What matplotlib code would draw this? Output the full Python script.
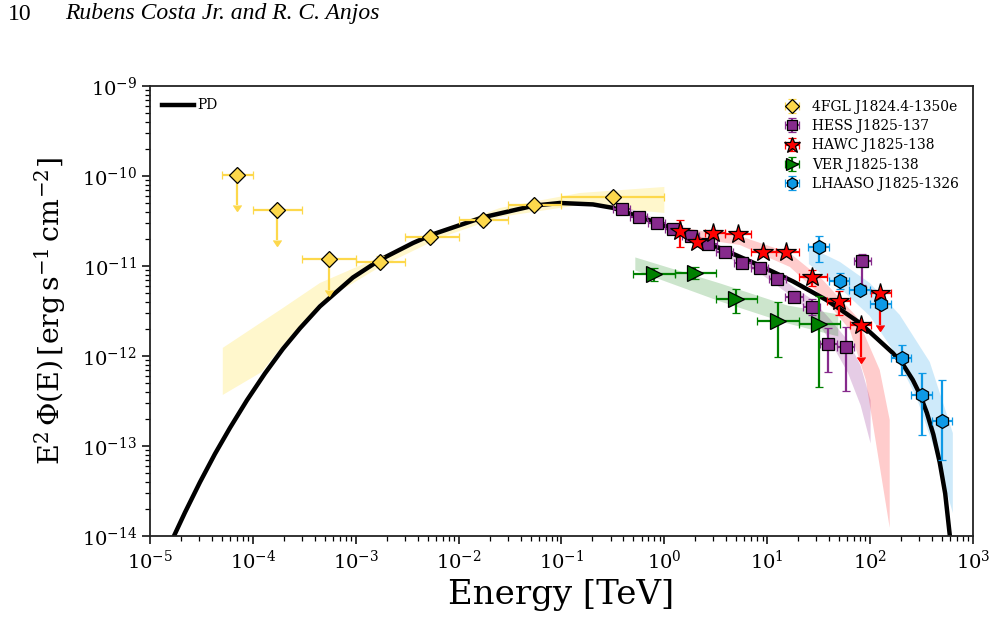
import matplotlib
matplotlib.use('Agg')
import matplotlib.pyplot as plt
import matplotlib.ticker as mticker
import numpy as np

plt.rcParams['font.family'] = 'DejaVu Serif'
plt.rcParams['mathtext.fontset'] = 'dejavuserif'

# PD model curve
pd_E = [1.41e-5, 1.71e-5, 2.19e-5, 3.06e-5, 4.28e-5, 5.99e-5, 8.77e-5, 1.31e-4,
        1.96e-4, 2.87e-4, 4.49e-4, 9.39e-4, 1.72e-3, 3.60e-3, 5.62e-3, 1.72e-2,
        5.4e-2, 9.64e-2, 0.202, 0.316, 0.904, 1.89, 4.05, 8.47, 17.7, 37.9, 79.4,
        166, 209, 260, 302, 356, 412, 475, 537, 596, 631]
pd_F = [6.2e-15, 1.0e-14, 1.83e-14, 3.96e-14, 8.17e-14, 1.59e-13, 3.23e-13, 6.40e-13,
        1.20e-12, 2.03e-12, 3.56e-12, 7.45e-12, 1.17e-11, 1.80e-11, 2.25e-11, 3.47e-11,
        4.68e-11, 5.01e-11, 4.83e-11, 4.42e-11, 2.94e-11, 2.10e-11, 1.46e-11, 1.01e-11,
        6.76e-12, 4.17e-12, 2.33e-12, 1.08e-12, 8.02e-13, 5.41e-13, 3.83e-13, 2.34e-13,
        1.34e-13, 6.56e-14, 2.95e-14, 1.0e-14, 5.0e-15]

# 4FGL J1824.4-1350e
fermi_E = np.array([7.0e-5, 1.73e-4, 5.5e-4, 1.73e-3, 5.3e-3, 1.73e-2, 5.4e-2, 0.315])
fermi_Elo = np.array([5e-5, 1e-4, 3e-4, 1e-3, 3e-3, 1e-2, 3e-2, 0.1])
fermi_Ehi = np.array([1e-4, 3e-4, 1e-3, 3e-3, 1e-2, 3e-2, 0.1, 1.0])
fermi_F = np.array([1.03e-10, 4.19e-11, 1.19e-11, 1.12e-11, 2.08e-11, 3.24e-11, 4.76e-11, 5.8e-11])
fermi_rel = np.array([0.54, 0.54, 0.54, 0.14, 0.12, 0.12, 0.10, 0.10])
fermi_ul = np.array([True, True, True, False, False, False, False, False])
fermi_band_upE = [5.1e-5, 1.96e-4, 4.49e-4, 1.72e-3, 6.58e-3, 2.52e-2, 0.151, 1.0]
fermi_band_upF = [1.23e-12, 3.41e-12, 6.47e-12, 1.26e-11, 2.51e-11, 4.41e-11, 6.47e-11, 7.55e-11]
fermi_band_loE = [5.1e-5, 1.22e-4, 1.96e-4, 4.49e-4, 1.72e-3, 6.58e-3, 2.52e-2, 0.151, 1.0]
fermi_band_loF = [3.69e-13, 6.64e-13, 1.32e-12, 3.88e-12, 9.75e-12, 2.05e-11, 3.5e-11, 4.76e-11, 3.88e-11]

# HESS J1825-137
hess_E = np.array([0.384, 0.565, 0.839, 1.22, 1.81, 2.67, 3.87, 5.70, 8.47, 12.5,
                   18.2, 27.0, 39.1, 57.7, 84.3])
hess_F = np.array([4.27e-11, 3.53e-11, 3.03e-11, 2.56e-11, 2.15e-11, 1.74e-11,
                   1.42e-11, 1.09e-11, 9.42e-12, 7.11e-12, 4.49e-12, 3.53e-12,
                   1.36e-12, 1.25e-12, 1.14e-11])
hess_rel_lo = np.array([0.05] * 10 + [0.08, 0.19, 0.51, 0.67, 0.46])
hess_rel_hi = np.array([0.05] * 10 + [0.08, 0.23, 0.51, 0.67, 0.20])
hess_band_E = [0.384, 1.81, 8.47, 18.2, 27.0, 39.9, 60.0, 80.0, 100]
hess_band_up = [4.76e-11, 2.39e-11, 1.08e-11, 5.84e-12, 4.30e-12, 2.64e-12, 1.51e-12, 7.94e-13, 3.24e-13]
hess_band_lo = [3.88e-11, 1.95e-11, 8.36e-12, 4.41e-12, 3.01e-12, 1.51e-12, 6.64e-13, 2.86e-13, 1.08e-13]

# HAWC J1825-138
hawc_E = np.array([1.42, 2.06, 2.98, 5.21, 9.12, 15.1, 27.3, 49.7, 80.7, 126])
hawc_Elo = np.array([1.42, 2.06, 2.48, 3.87, 6.89, 12.3, 20.3, 37.7, 63.5, 102])
hawc_Ehi = np.array([1.42, 2.06, 3.87, 6.89, 12.3, 20.3, 37.7, 63.5, 102, 159])
hawc_F = np.array([2.45e-11, 1.86e-11, 2.34e-11, 2.27e-11, 1.44e-11, 1.44e-11,
                   7.49e-12, 4.06e-12, 2.19e-12, 4.97e-12])
hawc_rel = np.array([0.33, 0.10, 0.08, 0.08, 0.08, 0.08, 0.20, 0.30, 0.55, 0.55])
hawc_ul = np.array([False] * 8 + [True, True])
hawc_band_upE = [1.32, 2.53, 5.42, 16.6, 34.7, 74.3, 124, 155]
hawc_band_upF = [2.78e-11, 2.39e-11, 2.15e-11, 1.39e-11, 6.99e-12, 2.71e-12, 6.99e-13, 1.95e-13]
hawc_band_loE = [1.32, 2.53, 5.42, 16.6, 34.7, 63.5, 90.8, 155]
hawc_band_loF = [2.27e-11, 1.95e-11, 1.71e-11, 9.75e-12, 4.53e-12, 1.95e-12, 5.41e-13, 1.23e-14]

# VER J1825-138
ver_E = np.array([0.796, 1.98, 4.95, 12.8, 31.7])
ver_Elo = np.array([0.50, 1.26, 3.2, 8.0, 20.3])
ver_Ehi = np.array([1.26, 3.2, 8.0, 20.3, 50.7])
ver_F = np.array([8.09e-12, 8.43e-12, 4.27e-12, 2.45e-12, 2.27e-12])
ver_rel_lo = np.array([0.16, 0.16, 0.30, 0.60, 0.80])
ver_rel_hi = np.array([0.16, 0.16, 0.30, 0.64, 1.03])
ver_band_E = [0.516, 3.46, 15.5, 48.5]
ver_band_up = [1.26e-11, 6.47e-12, 3.69e-12, 2.93e-12]
ver_band_lo = [9.03e-12, 4.08e-12, 2.33e-12, 1.67e-12]

# LHAASO J1825-1326
lhaaso_E = np.array([31.9, 50.8, 79.4, 127, 202, 320, 505])
lhaaso_Elo = np.array([25, 40, 63, 100, 158, 251, 398])
lhaaso_Ehi = np.array([40, 63, 100, 158, 251, 398, 631])
lhaaso_F = np.array([1.64e-11, 6.87e-12, 5.41e-12, 3.75e-12, 9.57e-13, 3.69e-13, 1.91e-13])
lhaaso_rel_lo = np.array([0.32, 0.19, 0.08, 0.08, 0.35, 0.64, 0.63])
lhaaso_rel_hi = np.array([0.31, 0.21, 0.08, 0.08, 0.38, 0.77, 1.83])
lhaaso_band_upE = [25.4, 50.8, 99.3, 194, 380, 637]
lhaaso_band_upF = [1.63e-11, 1.11e-11, 6.47e-12, 2.86e-12, 8.58e-13, 1.39e-13]
lhaaso_band_loE = [25.4, 50.8, 99.3, 166, 284, 425, 637]
lhaaso_band_loF = [1.05e-11, 5.70e-12, 2.78e-12, 1.17e-12, 3.41e-13, 9.03e-14, 1.80e-14]

x_ticks = [1e-5, 1e-4, 1e-3, 1e-2, 1e-1, 1e0, 1e1, 1e2, 1e3]
y_ticks = [1e-14, 1e-13, 1e-12, 1e-11, 1e-10, 1e-9]

c_fermi = '#fdd84b'
c_hess = '#862a8c'
c_hawc = 'red'
c_ver = 'green'
c_lhaaso = '#0d99e6'

fig = plt.figure(figsize=(9.96, 6.22), dpi=100)
ax = fig.add_axes([0.1506, 0.1383, 0.8263, 0.7235])


def poly(upE, upF, loE, loF):
    return np.concatenate([upE, loE[::-1]]), np.concatenate([upF, loF[::-1]])


# bands
xs, ys = poly(fermi_band_upE, fermi_band_upF, fermi_band_loE, fermi_band_loF)
ax.fill(xs, ys, color='gold', alpha=0.2, lw=0, zorder=1)
ax.fill_between(hess_band_E, hess_band_lo, hess_band_up, color='purple', alpha=0.2, lw=0, zorder=1)
xs, ys = poly(hawc_band_upE, hawc_band_upF, hawc_band_loE, hawc_band_loF)
ax.fill(xs, ys, color='red', alpha=0.2, lw=0, zorder=1)
ax.fill_between(ver_band_E, ver_band_lo, ver_band_up, color='green', alpha=0.2, lw=0, zorder=1)
xs, ys = poly(lhaaso_band_upE, lhaaso_band_upF, lhaaso_band_loE, lhaaso_band_loF)
ax.fill(xs, ys, color=c_lhaaso, alpha=0.2, lw=0, zorder=1)

pd_line, = ax.plot(pd_E, pd_F, color='black', lw=3.2, zorder=2, label='PD',
                   solid_joinstyle='round')

eb = dict(linestyle='none', capsize=3, elinewidth=1.6, capthick=1.2,
          markeredgecolor='black', markeredgewidth=0.9)

h1 = ax.errorbar(fermi_E, fermi_F, xerr=[fermi_E - fermi_Elo, fermi_Ehi - fermi_E],
                 yerr=fermi_rel * fermi_F, uplims=fermi_ul, marker='D', ms=8.5,
                 color=c_fermi, ecolor=c_fermi, zorder=3, label='4FGL J1824.4-1350e', **eb)
h2 = ax.errorbar(hess_E, hess_F, xerr=[hess_E * 0.174, hess_E * 0.211],
                 yerr=[hess_rel_lo * hess_F, hess_rel_hi * hess_F], marker='s', ms=9,
                 color=c_hess, ecolor=c_hess, zorder=4, label='HESS J1825-137', **eb)
h3 = ax.errorbar(hawc_E, hawc_F, xerr=[hawc_E - hawc_Elo, hawc_Ehi - hawc_E],
                 yerr=hawc_rel * hawc_F, uplims=hawc_ul, marker='*', ms=15,
                 color=c_hawc, ecolor=c_hawc, zorder=5, label='HAWC J1825-138', **eb)
h4 = ax.errorbar(ver_E, ver_F, xerr=[ver_E - ver_Elo, ver_Ehi - ver_E],
                 yerr=[ver_rel_lo * ver_F, ver_rel_hi * ver_F], marker='>', ms=11,
                 color=c_ver, ecolor=c_ver, zorder=6, label='VER J1825-138', **eb)
h5 = ax.errorbar(lhaaso_E, lhaaso_F, xerr=[lhaaso_E - lhaaso_Elo, lhaaso_Ehi - lhaaso_E],
                 yerr=[lhaaso_rel_lo * lhaaso_F, lhaaso_rel_hi * lhaaso_F], marker='h', ms=10,
                 color=c_lhaaso, ecolor=c_lhaaso, zorder=7, label='LHAASO J1825-1326', **eb)

ax.set_xscale('log')
ax.set_yscale('log')
ax.set_xlim(1e-5, 1e3)
ax.set_ylim(1e-14, 1e-9)
ax.xaxis.set_major_locator(mticker.FixedLocator(x_ticks))
ax.yaxis.set_major_locator(mticker.FixedLocator(y_ticks))
ax.xaxis.set_minor_locator(mticker.LogLocator(base=10, subs=np.arange(2, 10), numticks=100))
ax.yaxis.set_minor_locator(mticker.LogLocator(base=10, subs=np.arange(2, 10), numticks=100))
ax.xaxis.set_major_formatter(mticker.LogFormatterSciNotation())
ax.yaxis.set_major_formatter(mticker.LogFormatterSciNotation())
ax.xaxis.set_minor_formatter(mticker.NullFormatter())
ax.yaxis.set_minor_formatter(mticker.NullFormatter())
ax.tick_params(which='major', length=6, width=1.1, labelsize=14)
ax.tick_params(which='minor', length=3.5, width=0.9)
for s in ax.spines.values():
    s.set_linewidth(1.3)
    s.set_color('#222222')

ax.set_xlabel('Energy [TeV]', fontsize=24.5, labelpad=5)
ax.set_ylabel(r'$\mathrm{E^2\,\Phi(E)\,[erg\,s^{-1}\,cm^{-2}]}$', fontsize=20.5, labelpad=10)

leg1 = ax.legend(handles=[pd_line], loc='upper left', frameon=False, fontsize=10,
                 handlelength=2.3, handletextpad=0.2)
ax.add_artist(leg1)
ax.legend(handles=[h1, h2, h3, h4, h5], loc='upper right', frameon=False, fontsize=10,
          handlelength=0.9, handletextpad=1.0, labelspacing=0.38, markerscale=0.8,
          borderaxespad=0.6)

# page header
fig.text(8 / 996, 1 - 14 / 622, '10', family='Liberation Serif', fontsize=17, va='center')
fig.text(65 / 996, 1 - 14 / 622, 'Rubens Costa Jr. and R. C. Anjos', family='Liberation Serif',
         style='italic', fontsize=17, va='center')

fig.savefig('out.png', dpi=100)
